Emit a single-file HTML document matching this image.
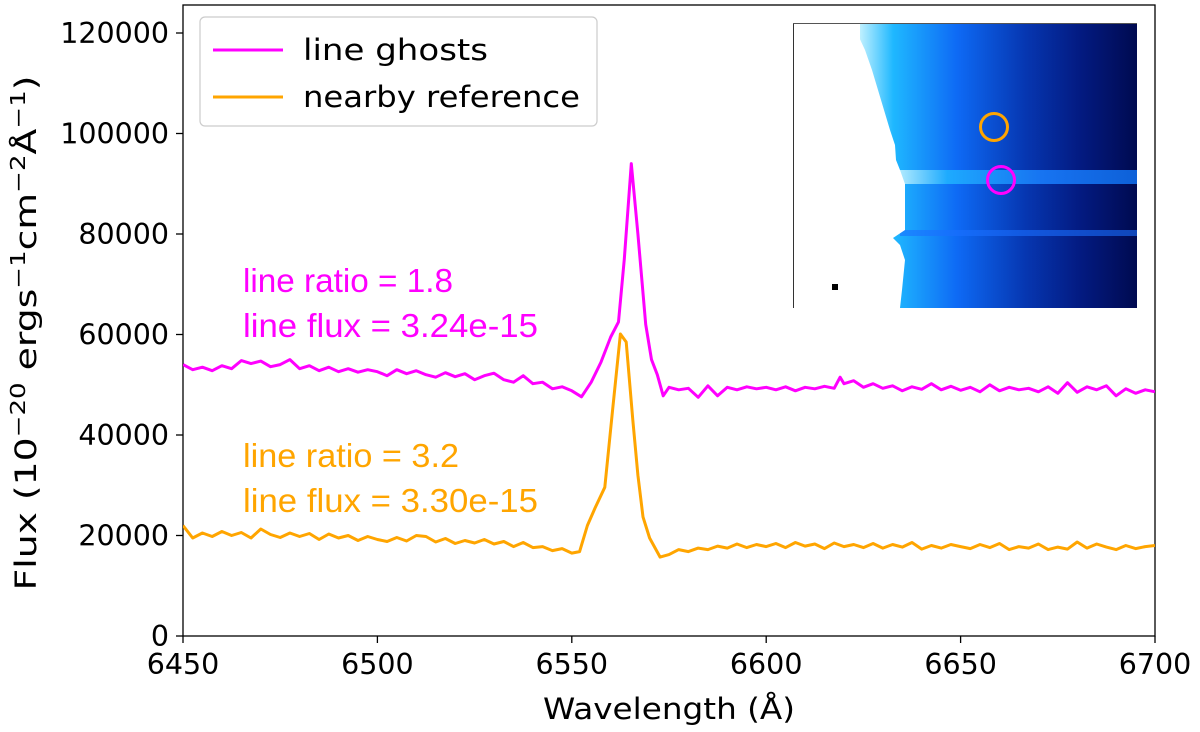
<!DOCTYPE html>
<html><head><meta charset="utf-8"><style>
body{margin:0;background:#fff}
svg{display:block;font-family:"DejaVu Sans","Liberation Sans",sans-serif}
</style></head><body>
<svg id="chart" width="1200" height="732" viewBox="0 0 1200 732">
<defs>
<linearGradient id="blueg" x1="0" x2="1" y1="0" y2="0">
<stop offset="0" stop-color="#bff0ff"/><stop offset="0.12" stop-color="#1fb8ff"/><stop offset="0.35" stop-color="#0e6af5"/><stop offset="0.6" stop-color="#0636b0"/><stop offset="0.8" stop-color="#031a80"/><stop offset="1" stop-color="#000a50"/>
</linearGradient>
<linearGradient id="stripeg" x1="0" x2="1"><stop offset="0" stop-color="#c8f4ff"/><stop offset="0.2" stop-color="#20b4ff"/><stop offset="0.6" stop-color="#1a80ff"/><stop offset="1" stop-color="#1070f0"/></linearGradient>
<clipPath id="plotclip"><rect x="183" y="5" width="972" height="631"/></clipPath>
</defs>
<g id="inset">
<rect x="860" y="23" width="277" height="285" fill="url(#blueg)"/>
<rect x="900" y="170" width="237" height="14" fill="url(#stripeg)" opacity="0.85"/>
<rect x="900" y="230" width="237" height="6" fill="#1a70ff" opacity="0.6"/>
<polygon points="793,23 853,23 858,35 865,50 872,70 878,90 884,110 890,130 895,145 896,160 900,170 905,184 905,230 893,238 900,245 905,260 902,290 900,308 793,308" fill="#fff"/>
<line x1="793.5" y1="23" x2="793.5" y2="308" stroke="#333" stroke-width="1"/>
<line x1="793" y1="23.5" x2="1137" y2="23.5" stroke="#555" stroke-width="1"/>
<rect x="832" y="284" width="6" height="6" fill="#000"/>
<circle cx="994" cy="127" r="13.5" fill="none" stroke="#ffa500" stroke-width="3"/>
<circle cx="1001" cy="180" r="13.5" fill="none" stroke="#ff00ff" stroke-width="3"/>
</g>
<rect x="183" y="5" width="972" height="631" fill="none" stroke="#000" stroke-width="1.3"/>
<g id="xticks"></g>
<g id="yticks"></g>
<g id="series" clip-path="url(#plotclip)"></g>
<g>
<rect x="200" y="17" width="397" height="109" rx="5" fill="#fff" fill-opacity="0.85" stroke="#ccc" stroke-width="1.2"/>
<line x1="213" y1="50" x2="283" y2="50" stroke="#ff00ff" stroke-width="3"/>
<text x="303" y="60" font-size="29" textLength="185" lengthAdjust="spacingAndGlyphs">line ghosts</text>
<line x1="213" y1="97" x2="283" y2="97" stroke="#ffa500" stroke-width="3"/>
<text x="303" y="107" font-size="29" textLength="277" lengthAdjust="spacingAndGlyphs">nearby reference</text>
</g>
<g font-family="Liberation Sans, sans-serif" font-size="33">
<text x="243" y="292" fill="#ff00ff" textLength="210" lengthAdjust="spacingAndGlyphs">line ratio = 1.8</text>
<text x="243" y="337" fill="#ff00ff" textLength="295" lengthAdjust="spacingAndGlyphs">line flux = 3.24e-15</text>
<text x="243" y="467" fill="#ffa500" textLength="216" lengthAdjust="spacingAndGlyphs">line ratio = 3.2</text>
<text x="243" y="512" fill="#ffa500" textLength="295" lengthAdjust="spacingAndGlyphs">line flux = 3.30e-15</text>
</g>
<text x="669" y="719" font-size="29" text-anchor="middle" textLength="252" lengthAdjust="spacingAndGlyphs">Wavelength (Å)</text>
<text transform="translate(36,333) rotate(-90)" font-size="29" text-anchor="middle" textLength="515" lengthAdjust="spacingAndGlyphs">Flux (10<tspan font-size="20" dy="-11">−20</tspan><tspan dy="11"> ergs</tspan><tspan font-size="20" dy="-11">−1</tspan><tspan dy="11">cm</tspan><tspan font-size="20" dy="-11">−2</tspan><tspan dy="11">Å</tspan><tspan font-size="20" dy="-11">−1</tspan><tspan dy="11">)</tspan></text>
</svg>
<script>
const xTicks=[6450,6500,6550,6600,6650,6700];
const yTicks=[0,20000,40000,60000,80000,100000,120000];
const ghostWl=[6450,6452.5,6455,6457.5,6460,6462.5,6465,6467.5,6470,6472.5,6475,6477.5,6480,6482.5,6485,6487.5,6490,6492.5,6495,6497.5,6500,6502.5,6505,6507.5,6510,6512.5,6515,6517.5,6520,6522.5,6525,6527.5,6530,6532.5,6535,6537.5,6540,6542.5,6545,6547.5,6550,6552.5,6555,6557.5,6560,6562,6563.5,6565.3,6567,6569,6570.5,6572,6573.5,6575,6577.5,6580,6582.5,6585,6587.5,6590,6592.5,6595,6597.5,6600,6602.5,6605,6607.5,6610,6612.5,6615,6617.5,6619,6620,6622.5,6625,6627.5,6630,6632.5,6635,6637.5,6640,6642.5,6645,6647.5,6650,6652.5,6655,6657.5,6660,6662.5,6665,6667.5,6670,6672.5,6675,6677.5,6680,6682.5,6685,6687.5,6690,6692.5,6695,6697.5,6700];
const ghostFlux=[54000,53000,53500,52800,53800,53200,54800,54200,54700,53600,54000,55000,53200,53800,52800,53500,52600,53200,52500,53000,52600,51800,53000,52200,52800,52000,51500,52400,51600,52200,51000,51800,52300,51000,50500,51800,50200,50500,49200,49600,48800,47600,50500,54500,59500,62500,75000,94000,80000,62000,55000,52000,47800,49500,49000,49300,47500,49800,47800,49500,49000,49600,49200,49500,49000,49600,48800,49500,49200,49700,49300,51500,50200,50800,49500,50200,49300,49800,48800,49600,49100,50200,49000,49700,48900,49500,48600,50000,48800,49500,49000,49300,48600,49600,48300,50400,48500,49600,49000,49800,47800,49200,48300,49000,48600];
const refWl=[6450,6452.5,6455,6457.5,6460,6462.5,6465,6467.5,6470,6472.5,6475,6477.5,6480,6482.5,6485,6487.5,6490,6492.5,6495,6497.5,6500,6502.5,6505,6507.5,6510,6512.5,6515,6517.5,6520,6522.5,6525,6527.5,6530,6532.5,6535,6537.5,6540,6542.5,6545,6547.5,6550,6552,6554,6556,6558.5,6560.5,6562.5,6564,6565.7,6567,6568.3,6570,6572.7,6575,6577.5,6580,6582.5,6585,6587.5,6590,6592.5,6595,6597.5,6600,6602.5,6605,6607.5,6610,6612.5,6615,6617.5,6620,6622.5,6625,6627.5,6630,6632.5,6635,6637.5,6640,6642.5,6645,6647.5,6650,6652.5,6655,6657.5,6660,6662.5,6665,6667.5,6670,6672.5,6675,6677.5,6680,6682.5,6685,6687.5,6690,6692.5,6695,6697.5,6700];
const refFlux=[22000,19500,20500,19800,20800,20000,20600,19500,21300,20200,19600,20500,19800,20400,19200,20300,19500,20000,19000,19800,19200,18800,19600,18900,20000,19800,18700,19400,18400,19000,18500,19200,18300,18800,17800,18600,17600,17800,17000,17400,16500,16800,22000,25500,29600,45000,60100,58500,43000,32000,23700,19500,15700,16200,17200,16800,17500,17200,17900,17500,18300,17600,18200,17800,18400,17600,18600,17900,18300,17400,18500,17800,18200,17600,18400,17500,18200,17700,18600,17300,18000,17500,18200,17800,17400,18200,17600,18400,17200,17800,17500,18300,17200,17700,17300,18700,17500,18300,17700,17200,18000,17400,17800,18000];
const NS='http://www.w3.org/2000/svg';
const X0=183,X1=1155,Y0=636,PXY=100.5/20000;
const xs=v=>X0+(v-6450)*(X1-X0)/250;
const ys=v=>Y0-v*PXY;
function mk(tag,attrs,parent){const e=document.createElementNS(NS,tag);for(const k in attrs)e.setAttribute(k,attrs[k]);parent.appendChild(e);return e;}
const xg=document.getElementById('xticks'),yg=document.getElementById('yticks'),sg=document.getElementById('series');
xTicks.forEach(t=>{
  const l=mk('line',{x1:xs(t),x2:xs(t),y1:Y0,y2:Y0+7,stroke:'#000','stroke-width':1.3},xg);
  
  
  const tx=mk('text',{x:xs(t),y:Y0+38,'font-size':28.5,'text-anchor':'middle'},xg);
  tx.textContent=t;
  
  
});
yTicks.forEach(t=>{
  const l=mk('line',{x1:X0-7,x2:X0,y1:ys(t),y2:ys(t),stroke:'#000','stroke-width':1.3},yg);
  
  
  const tx=mk('text',{x:X0-14,y:ys(t)+10,'font-size':28.5,'text-anchor':'end'},yg);
  tx.textContent=t;
  
  
});
function line(wl,fl,color,name){
  const d=wl.map((w,i)=>(i?'L':'M')+xs(w).toFixed(1)+','+ys(fl[i]).toFixed(1)).join('');
  const p=mk('path',{d:d,fill:'none',stroke:color,'stroke-width':3,'stroke-linejoin':'round'},sg);
  
  
}
line(refWl,refFlux,'#ffa500','nearby-reference-line');
line(ghostWl,ghostFlux,'#ff00ff','line-ghosts-line');
</script>
</body></html>
